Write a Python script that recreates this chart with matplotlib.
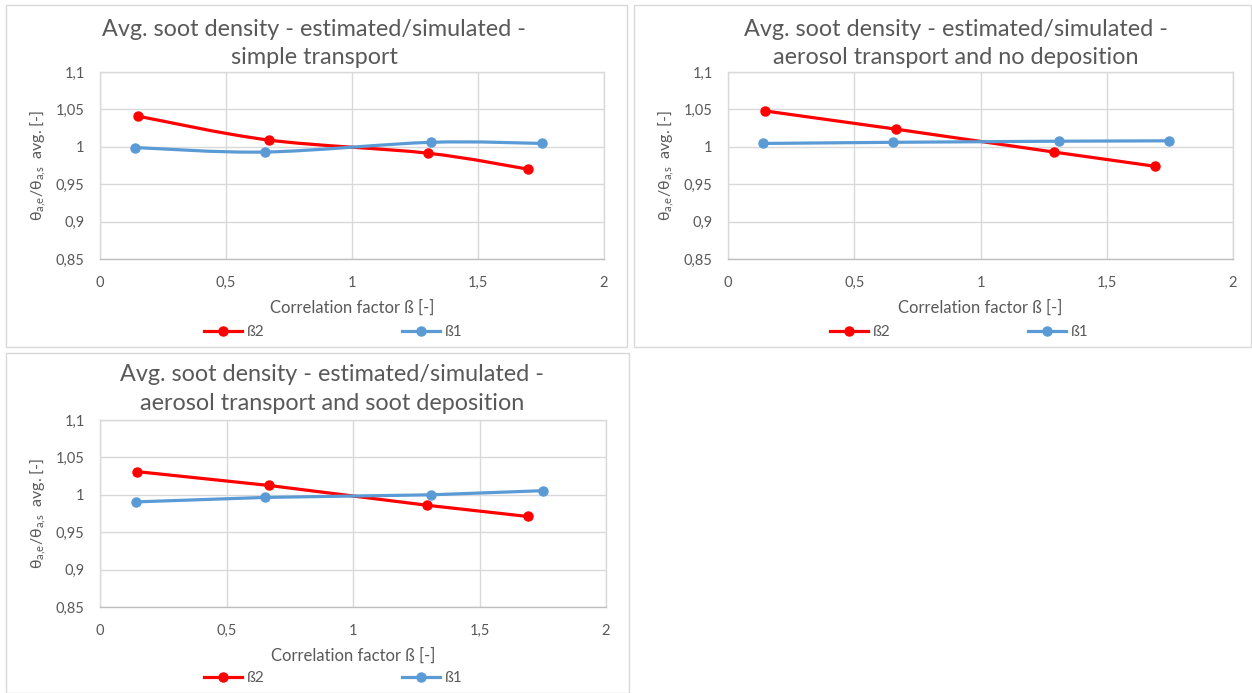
import matplotlib
matplotlib.use("Agg")
import matplotlib.pyplot as plt
from matplotlib.path import Path
from matplotlib.patches import PathPatch, Rectangle
from matplotlib.lines import Line2D
from matplotlib.ticker import FuncFormatter, MultipleLocator
import numpy as np

plt.rcParams['font.family'] = ['Lato', 'DejaVu Sans']
plt.rcParams['mathtext.fontset'] = 'custom'
plt.rcParams['mathtext.rm'] = 'Lato'
plt.rcParams['mathtext.it'] = 'Lato'
plt.rcParams['mathtext.bf'] = 'Lato:bold'

# ---- data ----
titles = [
    "Avg. soot density - estimated/simulated -\nsimple transport",
    "Avg. soot density - estimated/simulated -\naerosol transport and no deposition",
    "Avg. soot density - estimated/simulated -\naerosol transport and soot deposition",
]
x_b2 = [[0.15, 0.67, 1.30, 1.70], [0.145, 0.667, 1.29, 1.69], [0.146, 0.667, 1.293, 1.691]]
y_b2 = [[1.041, 1.009, 0.9915, 0.970], [1.048, 1.0235, 0.993, 0.974], [1.031, 1.0125, 0.986, 0.971]]
x_b1 = [[0.14, 0.655, 1.313, 1.753], [0.14, 0.652, 1.311, 1.748], [0.141, 0.654, 1.309, 1.75]]
y_b1 = [[0.999, 0.993, 1.006, 1.0045], [1.0045, 1.006, 1.0075, 1.008], [0.9905, 0.9965, 1.0, 1.0055]]
smoothed = [True, False, False]
series_names = ["ß2", "ß1"]
xlabel = "Correlation factor ß [-]"
ylabel = "θ$_{a{,}e}$/θ$_{a{,}s}$  avg. [-]"

RED = "#ff0000"
BLUE = "#5b9bd5"
GRID = "#d9d9d9"
TXT = "#595959"

W, H = 1252, 693
fig = plt.figure(figsize=(W / 100, H / 100), dpi=100)


def fr(l, t, r, b):
    return [l / W, 1 - b / H, (r - l) / W, (b - t) / H]


def smooth_path(xs, ys):
    pts = np.column_stack([xs, ys]).astype(float)
    n = len(pts)
    verts = [pts[0]]
    codes = [Path.MOVETO]
    for i in range(n - 1):
        p_prev = pts[i - 1] if i > 0 else pts[i]
        p_next2 = pts[i + 2] if i + 2 < n else pts[i + 1]
        c1 = pts[i] + (pts[i + 1] - p_prev) / 6.0
        c2 = pts[i + 1] - (p_next2 - pts[i]) / 6.0
        verts += [c1, c2, pts[i + 1]]
        codes += [Path.CURVE4] * 3
    return Path(verts, codes)


# panel boxes (left, top, right, bottom) in pixels
boxes = [(6, 5, 627, 347), (634, 5, 1251, 347), (6, 353, 629, 693)]
axes_px = [(100, 72, 604, 259), (728, 72, 1233, 259), (100, 420, 606, 607)]
title_pos = [(314, 43.5), (956, 43.5), (332, 389)]
legend_pos = [(333, 332), (959, 332), (333, 678)]

for b in boxes:
    fig.add_artist(Rectangle((b[0] / W, 1 - b[3] / H), (b[2] - b[0]) / W, (b[3] - b[1]) / H,
                             transform=fig.transFigure, facecolor="none",
                             edgecolor=GRID, lw=1.0))

fmt = FuncFormatter(lambda v, p: ("%g" % round(v, 3)).replace(".", ","))

for k in range(3):
    ax = fig.add_axes(fr(*axes_px[k]))
    ax.set_xlim(0, 2)
    ax.set_ylim(0.85, 1.1)
    ax.xaxis.set_major_locator(MultipleLocator(0.5))
    ax.yaxis.set_major_locator(MultipleLocator(0.05))
    ax.xaxis.set_major_formatter(fmt)
    ax.yaxis.set_major_formatter(fmt)
    ax.grid(True, color=GRID, lw=1.0)
    ax.set_axisbelow(True)
    for s in ax.spines.values():
        s.set_color(GRID)
        s.set_linewidth(1.0)
    ax.spines['bottom'].set_color("#bfbfbf")
    ax.tick_params(length=0, labelsize=10.5, colors=TXT)
    ax.tick_params(axis='y', pad=11)
    ax.tick_params(axis='x', pad=12)
    ax.set_xlabel(xlabel, fontsize=12, color=TXT, labelpad=7)
    ax.set_ylabel(ylabel, fontsize=11.5, color=TXT, labelpad=6)

    for xs, ys, col in [(x_b2[k], y_b2[k], RED), (x_b1[k], y_b1[k], BLUE)]:
        if smoothed[k]:
            ax.add_patch(PathPatch(smooth_path(xs, ys), facecolor="none", edgecolor=col,
                                   lw=2.3, capstyle='round', joinstyle='round'))
            ax.plot(xs, ys, ls="none", marker="o", ms=6.5, color=col)
        else:
            ax.plot(xs, ys, color=col, lw=2.3, marker="o", ms=6.5,
                    solid_capstyle='round')

    fig.text(title_pos[k][0] / W, 1 - title_pos[k][1] / H, titles[k], ha="center",
             va="center", fontsize=16.8, color=TXT, linespacing=1.45)

    handles = [Line2D([], [], color=RED, lw=2.3, marker="o", ms=6.5),
               Line2D([], [], color=BLUE, lw=2.3, marker="o", ms=6.5)]
    fig.legend(handles, series_names, loc="center",
               bbox_to_anchor=(legend_pos[k][0] / W, 1 - legend_pos[k][1] / H),
               ncol=2, frameon=False, fontsize=11, labelcolor=TXT,
               handlelength=2.5, handletextpad=0.3, columnspacing=9.0,
               borderaxespad=0, borderpad=0)

fig.savefig("out.png", dpi=100)
